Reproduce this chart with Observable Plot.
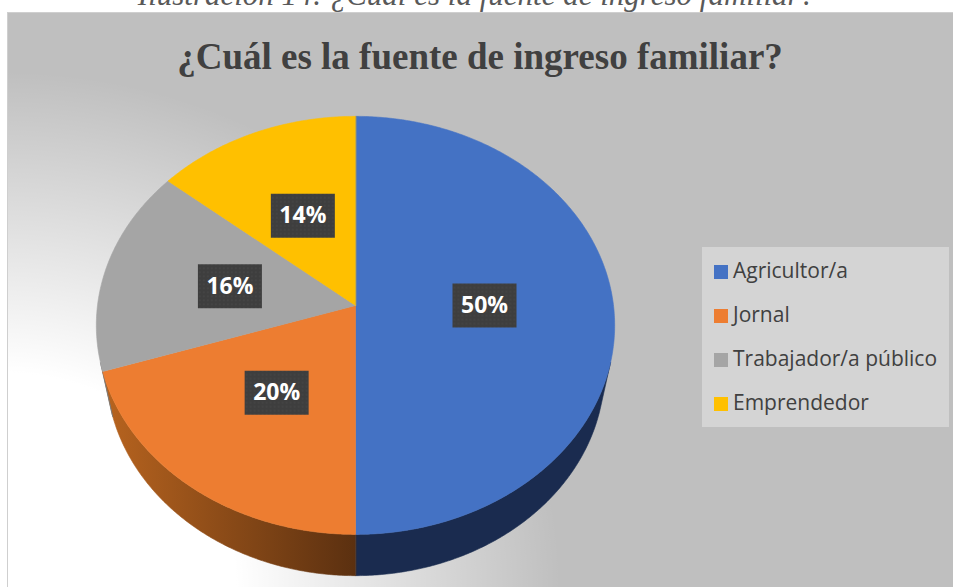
<!DOCTYPE html>
<html><head><meta charset="utf-8">
<script src="https://cdn.jsdelivr.net/npm/d3@7"></script>
<script src="https://cdn.jsdelivr.net/npm/@observablehq/plot@0.6"></script>
<style>
body{margin:0;width:953px;height:587px;overflow:hidden;background:#fff;position:relative;font-family:"Open Sans",sans-serif;}
#caption{position:absolute;left:0;width:953px;text-align:center;font:italic 31px/31px "Liberation Serif",serif;color:#595959;top:-21px;white-space:nowrap;}
#box{position:absolute;left:7px;top:12px;width:960px;height:600px;border:1px solid #cfcfcf;box-sizing:border-box;
 background:
  radial-gradient(ellipse 560px 520px at -7px 578px, #fff 0%, #fff 42%, rgba(255,255,255,0) 100%),
  #bfbfbf;}
#chart{position:absolute;left:0;top:0;}
#title{position:absolute;left:7px;width:946px;text-align:center;top:38px;font:bold 37px/37px "Liberation Serif",serif;color:#404040;white-space:nowrap;}
#legend{position:absolute;left:702px;top:247px;width:247px;height:180px;background:#d4d4d4;}
.item{position:absolute;left:12px;height:24px;line-height:24px;font-size:21px;color:#404040;white-space:nowrap;}
.sw{display:inline-block;width:14px;height:14px;margin-right:5px;vertical-align:-1px;}
</style></head>
<body>
<div id="caption">Ilustración 14: ¿Cuál es la fuente de ingreso familiar?</div>
<div id="box"></div>
<div id="chart"></div>
<div id="title">¿Cuál es la fuente de ingreso familiar?</div>
<div id="legend"></div>
<script>
// ---- data ----
const categories = ["Agricultor/a", "Jornal", "Trabajador/a público", "Emprendedor"];
const values = [50, 20, 16, 14];
const labels = ["50%", "20%", "16%", "14%"];

// ---- style ----
const palette = ["#4472c4", "#ed7d31", "#a5a5a5", "#ffc000"];
const sidePalette = ["#1a2b4f", "url(#orangeSide)", "#767676", "#bf9000"];

// ---- 3D projection ----
const cx = 355, cy = 305, K = 258;
const D = 6.27, alpha = 53.4 * Math.PI / 180, H = 0.313;
const sa = Math.sin(alpha), ca = Math.cos(alpha);
function proj(r, t, y) {
  const x = r * Math.sin(t), z = -r * Math.cos(t);
  const d = y * sa + z * ca;
  const s = D / (D - d);
  return {X: x * s, Y: (z * sa - y * ca) * s};
}
const arcs = d3.pie().sort(null).value(d => d)(values);
const deg = Math.PI / 180;

const tops = [];
arcs.forEach((a, i) => {
  const n = Math.max(2, Math.ceil((a.endAngle - a.startAngle) / (deg / 2)));
  tops.push({cat: categories[i], ...proj(0, 0, 0)});
  for (let k = 0; k <= n; k++) {
    const t = a.startAngle + (a.endAngle - a.startAngle) * k / n;
    tops.push({cat: categories[i], ...proj(1, t, 0)});
  }
});

const kv = 1 / (D * ca);
const v0 = Math.acos(-kv), v1 = 2 * Math.PI - Math.acos(-kv);
const wallMarks = [];
arcs.forEach((a, i) => {
  const lo = Math.max(a.startAngle, v0), hi = Math.min(a.endAngle, v1);
  if (hi <= lo) return;
  const n = Math.max(2, Math.ceil((hi - lo) / (deg / 2)));
  const pts = [];
  for (let k = 0; k <= n; k++) pts.push(proj(1, lo + (hi - lo) * k / n, 0));
  for (let k = n; k >= 0; k--) pts.push(proj(1, lo + (hi - lo) * k / n, -H));
  wallMarks.push(Plot.line(pts, {x: "X", y: "Y", fill: sidePalette[i], stroke: sidePalette[i], strokeWidth: 0.6, curve: "linear-closed"}));
});

const shadowPts = [];
for (let k = 0; k < 360; k++) shadowPts.push(proj(1.02, k * deg, -H));

const labelData = arcs.map((a, i) => ({label: labels[i], cat: categories[i], ...proj(0.5, (a.startAngle + a.endAngle) / 2, 0)}));
const boxSymbol = {draw(ctx) { ctx.rect(-32, -22, 64, 44); }};

const svg = Plot.plot({
  width: 953, height: 587, margin: 0,
  style: {background: "transparent"},
  x: {domain: [-1, 1], range: [cx - K, cx + K], axis: null},
  y: {domain: [-1, 1], range: [cy - K, cy + K], axis: null},
  color: {domain: categories, range: palette},
  marks: [
    Plot.line(shadowPts, {x: "X", y: "Y", dx: 5, dy: 6, fill: "#000", fillOpacity: 0.5, curve: "linear-closed", ariaLabel: "shadow"}),
    ...wallMarks,
    Plot.line(tops, {x: "X", y: "Y", z: "cat", fill: "cat", stroke: "cat", strokeWidth: 0.6, curve: "linear-closed"}),
    Plot.dot(labelData, {x: "X", y: "Y", symbol: boxSymbol, r: 10, fill: "url(#dots)", stroke: null, ariaLabel: "labelbox"}),
    Plot.text(labelData, {x: "X", y: "Y", text: "label", fill: "white", fontSize: 23, fontWeight: "bold", fontFamily: "Open Sans"})
  ]
});

const s = d3.select(svg);
const defs = s.insert("defs", ":first-child");
const g = defs.append("linearGradient").attr("id", "orangeSide").attr("x1", 0).attr("x2", 1).attr("y1", 0).attr("y2", 0);
g.append("stop").attr("offset", 0).attr("stop-color", "#b8641f");
g.append("stop").attr("offset", 1).attr("stop-color", "#5b3010");
const p = defs.append("pattern").attr("id", "dots").attr("patternUnits", "userSpaceOnUse").attr("width", 4).attr("height", 4);
p.append("rect").attr("width", 4).attr("height", 4).attr("fill", "#3e3e3e");
p.append("circle").attr("cx", 2).attr("cy", 2).attr("r", 0.6).attr("fill", "#555");
defs.append("filter").attr("id", "blur").attr("x", "-20%").attr("y", "-20%").attr("width", "140%").attr("height", "140%")
  .append("feGaussianBlur").attr("stdDeviation", 10);
const f2 = defs.append("filter").attr("id", "dshadow").attr("x", "-30%").attr("y", "-30%").attr("width", "160%").attr("height", "160%");
f2.append("feDropShadow").attr("dx", 2.5).attr("dy", 2.5).attr("stdDeviation", 1.5).attr("flood-color", "#000").attr("flood-opacity", 0.55);
s.select('g[aria-label="shadow"]').attr("filter", "url(#blur)");
s.select('g[aria-label="labelbox"]').attr("filter", "url(#dshadow)");
document.getElementById("chart").appendChild(svg);

// legend
const leg = d3.select("#legend");
categories.forEach((c, i) => {
  const it = leg.append("div").attr("class", "item").style("top", (11 + i * 44) + "px");
  it.append("span").attr("class", "sw").style("background", palette[i]);
  it.append("span").text(c);
});
</script>
</body></html>
